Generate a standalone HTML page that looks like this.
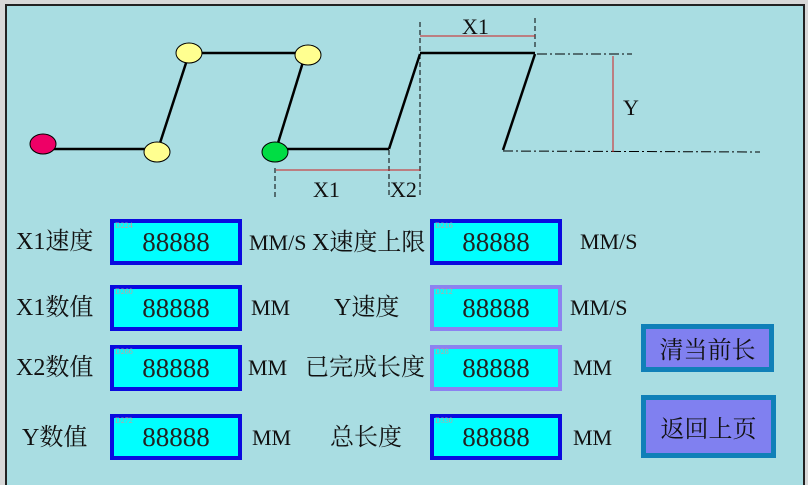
<!DOCTYPE html>
<html><head><meta charset="utf-8"><style>
body{margin:0;width:808px;height:483px;overflow:hidden;background:#d8d8d8;}
#f{position:absolute;left:5px;top:4px;width:800px;height:481px;background:#a9dde2;border-left:2px solid #222;border-top:2px solid #222;border-right:2px solid #222;box-sizing:border-box;}
.t{position:absolute;font-family:"Liberation Serif","Noto Serif CJK SC",serif;font-size:22px;color:#111;white-space:nowrap;line-height:1;}
.c{font-size:24px;}
.b{position:absolute;width:132px;height:46px;box-sizing:border-box;background:#00ffff;border:4px solid #0a0adf;font-family:"Liberation Serif",serif;font-size:27px;color:#222;text-align:center;line-height:38px;}
.b.l{border-color:#8c82f0;}
.b i{position:absolute;left:1px;top:-2px;font-size:8px;line-height:10px;color:#c0a0a0;font-style:normal;}
.btn{position:absolute;box-sizing:border-box;background:#8080f0;border:5px solid #1080b8;font-family:"Noto Serif CJK SC",serif;font-size:24px;color:#111;text-align:center;}
</style></head><body>
<div id="f"></div>
<svg width="808" height="483" style="position:absolute;left:0;top:0">
<g stroke="#000" stroke-width="2.5" fill="none">
<line x1="50" y1="149" x2="145" y2="149"/>
<line x1="160" y1="143" x2="187" y2="60"/>
<line x1="200" y1="53" x2="297" y2="53"/>
<line x1="303" y1="62" x2="278" y2="143"/>
<line x1="285" y1="149" x2="389" y2="149"/>
<line x1="389" y1="149" x2="420" y2="54"/>
<line x1="420" y1="53" x2="535" y2="53"/>
<line x1="535" y1="54" x2="503" y2="150"/>
</g>
<g stroke="#000" stroke-width="1" fill="none" stroke-dasharray="5,3">
<line x1="420" y1="22" x2="420" y2="197"/>
<line x1="535" y1="18" x2="535" y2="50"/>
<line x1="275" y1="168" x2="275" y2="197"/>
<line x1="389" y1="150" x2="389" y2="197"/>
</g>
<g stroke="#000" stroke-width="1" fill="none" stroke-dasharray="10,3,2,3">
<line x1="537" y1="54" x2="632" y2="54"/>
<line x1="503" y1="151" x2="760" y2="152"/>
</g>
<g stroke="#d02020" stroke-width="1">
<line x1="420" y1="36" x2="535" y2="36"/>
<line x1="613" y1="56" x2="613" y2="152"/>
<line x1="276" y1="170" x2="420" y2="170"/>
</g>
<g stroke="#000" stroke-width="1">
<ellipse cx="43" cy="144" rx="13" ry="10" fill="#ee0066"/>
<ellipse cx="157" cy="152" rx="13" ry="10" fill="#ffff90"/>
<ellipse cx="189" cy="53" rx="13" ry="10" fill="#ffff90"/>
<ellipse cx="308" cy="55" rx="13" ry="10" fill="#ffff90"/>
<ellipse cx="275" cy="152" rx="13" ry="10" fill="#00dd44"/>
</g>
</svg>
<div class="t" style="left:462px;top:16px">X1</div>
<div class="t" style="left:623px;top:97px">Y</div>
<div class="t" style="left:313px;top:179px">X1</div>
<div class="t" style="left:390px;top:179px">X2</div>

<div class="t c" style="left:16px;top:230px">X1速度</div>
<div class="t c" style="left:16px;top:296px">X1数值</div>
<div class="t c" style="left:16px;top:356px">X2数值</div>
<div class="t c" style="left:22px;top:426px">Y数值</div>

<div class="b" style="left:110px;top:219px"><i>D224</i>88888</div>
<div class="b" style="left:110px;top:285px"><i>D260</i>88888</div>
<div class="b" style="left:110px;top:345px"><i>D266</i>88888</div>
<div class="b" style="left:110px;top:414px"><i>D272</i>88888</div>

<div class="t" style="left:249px;top:231px">MM/S <span style="font-size:24px">X速度上限</span></div>
<div class="t" style="left:251px;top:297px">MM</div>
<div class="t" style="left:248px;top:357px">MM</div>
<div class="t" style="left:252px;top:427px">MM</div>
<div class="t c" style="left:334px;top:296px">Y速度</div>
<div class="t c" style="left:305px;top:356px">已完成长度</div>
<div class="t c" style="left:330px;top:426px">总长度</div>

<div class="b" style="left:430px;top:219px"><i>D216</i>88888</div>
<div class="b l" style="left:430px;top:285px"><i>D212</i>88888</div>
<div class="b l" style="left:430px;top:345px"><i>D28</i>88888</div>
<div class="b" style="left:430px;top:414px"><i>D330</i>88888</div>

<div class="t" style="left:580px;top:231px">MM/S</div>
<div class="t" style="left:570px;top:297px">MM/S</div>
<div class="t" style="left:573px;top:357px">MM</div>
<div class="t" style="left:573px;top:427px">MM</div>

<div class="btn" style="left:641px;top:324px;width:133px;height:48px;line-height:38px">清当前长</div>
<div class="btn" style="left:641px;top:395px;width:135px;height:63px;line-height:53px">返回上页</div>
</body></html>
